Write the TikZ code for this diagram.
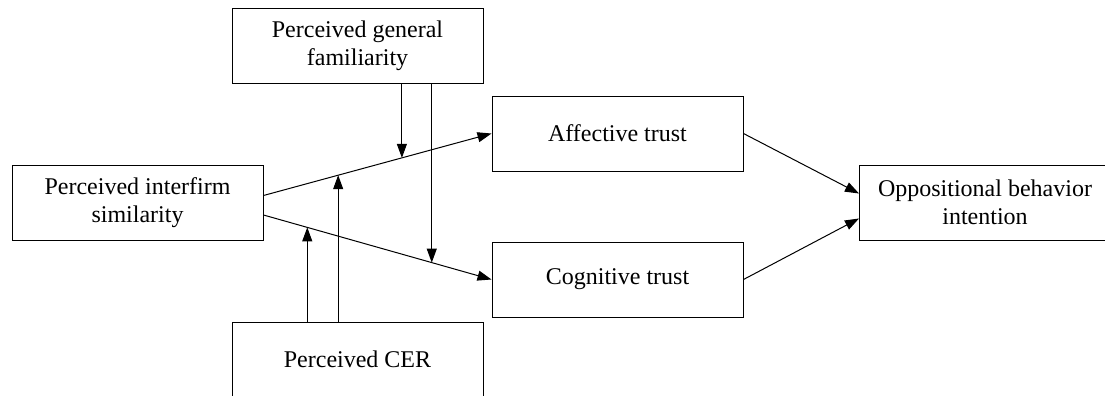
\documentclass[tikz,border=0pt]{standalone}
\usepackage{fontspec}
\setmainfont{Liberation Serif}
\usetikzlibrary{arrows.meta,calc}

\begin{document}
\begin{tikzpicture}[x=0.5pt,y=-0.5pt,font=\fontsize{12}{14}\selectfont,line width=.5pt,
 box/.style={draw,align=center,minimum width=125.5pt,minimum height=37.5pt,inner sep=0pt},
 arr/.style={-{Triangle[length=7pt,width=5pt]}}]
 \path[use as bounding box,clip](0,0)rectangle(1105,396);
 \node[box](fam)at(357.5,45.5){Perceived general\\familiarity};
 \node[box](sim)at(137.5,202.5){Perceived interfirm\\similarity};
 \node[box](cer)at(357.5,359.5){Perceived CER};
 \node[box](aff)at(617.5,133.5){Affective trust};
 \node[box](cog)at(617.5,279.5){Cognitive trust};
 \node[box](opp)at(985,202.5){Oppositional behavior\\intention};
 \draw[arr]($(sim.east)+(0,-7)$)--coordinate[pos=.3275](ma2)coordinate[pos=.607](ma1)(aff.west);
 \draw[arr]($(sim.east)+(0,12.5)$)--coordinate[pos=.192](mc2)coordinate[pos=.738](mc1)(cog.west);
 \draw[arr](fam.south-|ma1)--(ma1);
 \draw[arr](fam.south-|mc1)--(mc1);
 \draw[arr](cer.north-|mc2)--(mc2);
 \draw[arr](cer.north-|ma2)--(ma2);
 \draw[arr](aff.east)--($(opp.west)+(0,-9)$);
 \draw[arr](cog.east)--($(opp.west)+(0,16)$);
\end{tikzpicture}
\end{document}
